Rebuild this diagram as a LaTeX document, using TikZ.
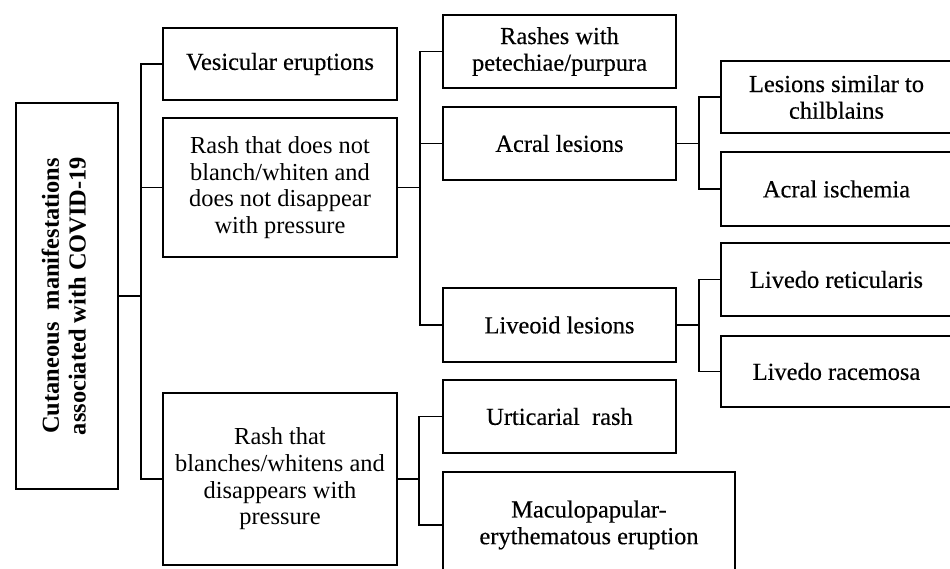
\documentclass[tikz,border=0pt]{standalone}
\usepackage{fontspec}
\setmainfont{Liberation Serif}
\newcommand\strokeon{\special{pdf:literal direct 2 Tr 0.05 w}}
\newcommand\strokeoff{\special{pdf:literal direct 0 Tr}}
\tikzset{
  box/.style={draw, line width=1.2pt, align=center, inner sep=0pt,
    font=\fontsize{13.9}{15.2}\selectfont\strokeoff},
  smallbox/.style={box, font=\fontsize{13.9}{15.2}\selectfont\strokeon},
  conn/.style={line width=1.1pt},
}
\begin{document}
\begin{tikzpicture}[x=0.02cm,y=-0.02cm]
\useasboundingbox (0,0) rectangle (950,568);
\clip (0,0) rectangle (950,568);
% root
\node[box, minimum width=2.04cm, minimum height=7.72cm] (root) at (67,296)
  {\rotatebox{90}{\bfseries\begin{tabular}{@{}c@{}}Cutaneous\ \ manifestations\\associated with COVID-19\end{tabular}}};
% level 1
\node[box, minimum width=4.68cm, minimum height=2.78cm] (dn) at (280,187.5)
  {Rash that does not\\blanch/whiten and\\does not disappear\\with pressure};
\node[box, minimum width=4.68cm, minimum height=3.44cm] (bl) at (280,479)
  {Rash that\\blanches/whitens and\\disappears with\\pressure};
\node[smallbox, minimum width=4.68cm, minimum height=1.44cm] (ves) at (280,64) {Vesicular eruptions};
% level 2
\node[smallbox, minimum width=4.66cm, minimum height=1.46cm] (pet) at (559.5,51.5) {Rashes with\\petechiae/purpura};
\node[smallbox, minimum width=4.66cm, minimum height=1.46cm] (acr) at (559.5,143.5) {Acral lesions};
\node[smallbox, minimum width=4.66cm, minimum height=1.48cm] (liv) at (559.5,325) {Liveoid lesions};
\node[smallbox, minimum width=4.66cm, minimum height=1.46cm] (urt) at (559.5,416.5) {Urticarial\ \ rash};
\node[smallbox, minimum width=5.84cm, minimum height=2.12cm] (mac) at (589,525) {Maculopapular-\\erythematous eruption};
% level 3
\node[smallbox, minimum width=4.62cm, minimum height=1.44cm] (chil) at (836.5,97) {Lesions similar to\\chilblains};
\node[smallbox, minimum width=4.62cm, minimum height=1.48cm] (isch) at (836.5,189) {Acral ischemia};
\node[smallbox, minimum width=4.62cm, minimum height=1.46cm] (ret) at (836.5,279.5) {Livedo reticularis};
\node[smallbox, minimum width=4.62cm, minimum height=1.42cm] (rac) at (836.5,371.5) {Livedo racemosa};
% bus coordinates
\coordinate (b1) at (141,296);
\coordinate (b2) at (420,187.5);
\coordinate (b3) at (419,479);
\coordinate (b4) at (699,143.5);
\coordinate (b5) at (699,325);
% connectors
\draw[conn] (root.east) -- (b1);
\draw[conn] (ves.west) -| (b1) |- (bl.west);
\draw[conn] (dn.west) -- (dn.west -| b1);
\draw[conn] (dn.east) -- (b2);
\draw[conn] (pet.west) -| (b2) |- (liv.west);
\draw[conn] (acr.west) -- (acr.west -| b2);
\draw[conn] (bl.east) -- (b3);
\draw[conn] (urt.west) -| (b3) |- (mac.west);
\draw[conn] (acr.east) -- (b4);
\draw[conn] (chil.west) -| (b4) |- (isch.west);
\draw[conn] (liv.east) -- (b5);
\draw[conn] (ret.west) -| (b5) |- (rac.west);
\end{tikzpicture}
\end{document}
